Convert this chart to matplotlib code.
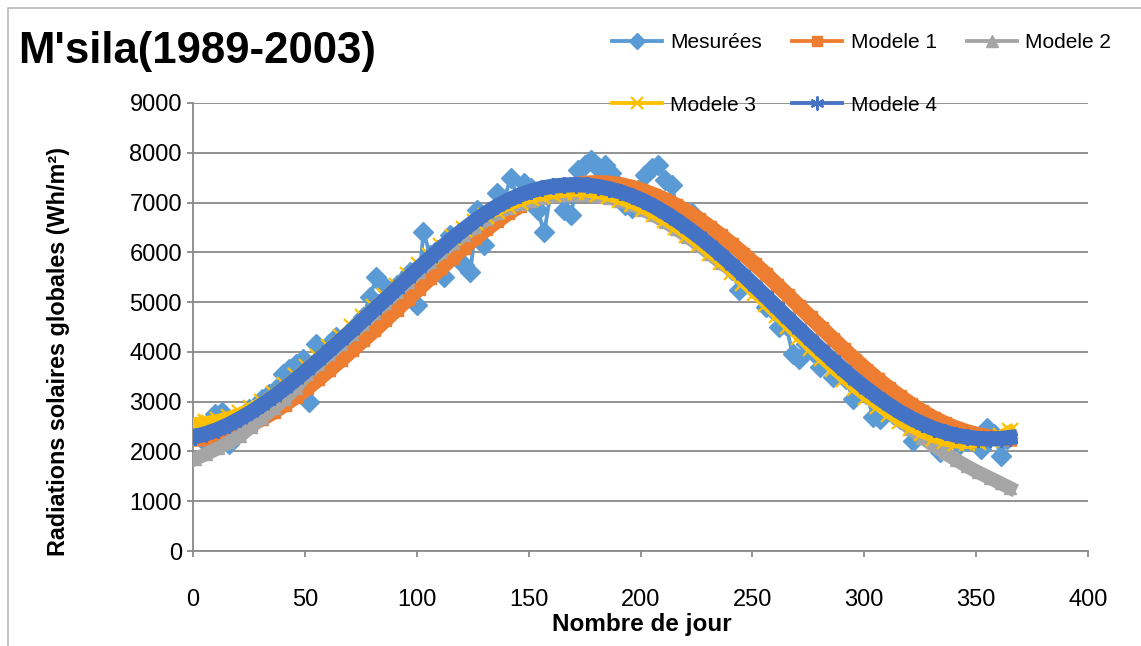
import matplotlib
matplotlib.use("Agg")
import matplotlib.pyplot as plt
from matplotlib.patches import Rectangle
from matplotlib.lines import Line2D

# jours (un point tous les 5 jours pour les modeles)
jours = list(range(1, 362, 5)) + [365]
# jours des mesures (un point tous les 3 jours)
jours_mes = list(range(1, 365, 3))

mesurees = [
    2350, 2250, 2500, 2750, 2800, 2150, 2500, 2600, 2850, 2750,
    3050, 3150, 3250, 3550, 3650, 3750, 3850, 3000, 4150, 3900,
    4150, 4300, 4200, 4350, 4550, 4700, 5100, 5500, 5350, 5200,
    5350, 5450, 5600, 4950, 6400, 5950, 6050, 5500, 6350, 6300,
    5750, 5600, 6850, 6150, 6750, 7200, 7050, 7500, 7100, 7400,
    7300, 6850, 6400, 7250, 7300, 6850, 6750, 7650, 7750, 7850,
    7700, 7750, 7600, 7350, 6950, 6900, 7250, 7550, 7700, 7750,
    7450, 7350, 6700, 6600, 6800, 6400, 6250, 6100, 5900, 5800,
    5650, 5250, 5450, 5300, 5200, 4900, 4850, 4500, 4550, 3950,
    3850, 4150, 4000, 3700, 3850, 3500, 3650, 3450, 3050, 3200,
    3150, 2700, 2650, 2850, 2750, 2650, 2550, 2200, 2450, 2350,
    2300, 1980, 2200, 2250, 2150, 2200, 2250, 2050, 2480, 2350,
    1900, 2250,
]

modele1 = [
    2250, 2255, 2300, 2360, 2440, 2540, 2660, 2790, 2940, 3100,
    3270, 3450, 3640, 3830, 4030, 4230, 4430, 4640, 4850, 5060,
    5270, 5480, 5690, 5890, 6090, 6280, 6460, 6630, 6790, 6930,
    7060, 7170, 7250, 7320, 7360, 7390, 7400, 7390, 7360, 7310,
    7240, 7155, 7060, 6945, 6815, 6670, 6510, 6340, 6160, 5970,
    5770, 5565, 5350, 5135, 4915, 4695, 4480, 4265, 4050, 3845,
    3645, 3455, 3275, 3105, 2950, 2805, 2675, 2565, 2470, 2395,
    2335, 2295, 2265, 2255,
]

modele2 = [
    1850, 1950, 2060, 2180, 2310, 2500, 2680, 2870, 3060, 3280,
    3560, 3760, 3960, 4160, 4360, 4570, 4780, 4990, 5200, 5410,
    5610, 5810, 6000, 6180, 6350, 6500, 6660, 6790, 6900, 6980,
    7040, 7090, 7130, 7150, 7160, 7160, 7140, 7100, 7040, 6960,
    6860, 6745, 6615, 6470, 6315, 6150, 5975, 5790, 5640, 5450,
    5255, 5055, 4850, 4645, 4435, 4225, 4015, 3805, 3600, 3395,
    3195, 3000, 2810, 2625, 2450, 2280, 2120, 1970, 1830, 1700,
    1580, 1470, 1360, 1270,
]

modele3 = [
    2580, 2600, 2640, 2700, 2780, 2880, 3000, 3160, 3330, 3510,
    3700, 3890, 4090, 4290, 4490, 4700, 4910, 5120, 5330, 5540,
    5740, 5930, 6120, 6300, 6460, 6600, 6730, 6840, 6940, 7020,
    7090, 7140, 7180, 7210, 7220, 7210, 7180, 7130, 7060, 6980,
    6880, 6770, 6640, 6500, 6340, 6170, 5990, 5800, 5600, 5390,
    5180, 4960, 4740, 4520, 4300, 4080, 3870, 3660, 3460, 3270,
    3090, 2920, 2760, 2610, 2480, 2370, 2280, 2210, 2170, 2160,
    2180, 2230, 2320, 2420,
]

modele4 = [
    2300, 2360, 2440, 2540, 2660, 2790, 2940, 3100, 3270, 3450,
    3640, 3830, 4030, 4230, 4430, 4640, 4850, 5060, 5270, 5480,
    5690, 5890, 6090, 6280, 6460, 6630, 6790, 6930, 7050, 7150,
    7230, 7290, 7330, 7350, 7360, 7350, 7320, 7275, 7215, 7135,
    7040, 6925, 6795, 6650, 6490, 6320, 6140, 5950, 5750, 5545,
    5330, 5115, 4895, 4675, 4460, 4245, 4035, 3830, 3630, 3440,
    3260, 3090, 2935, 2790, 2665, 2555, 2460, 2385, 2325, 2285,
    2260, 2250, 2260, 2280,
]

W, H = 1141, 646
fig = plt.figure(figsize=(W / 100, H / 100), dpi=100)
ax = fig.add_axes([193 / W, 1 - 551 / H, (1088 - 193) / W, (551 - 103) / H])

grid_c = "#898989"
# (label, colour, marker, legend marker size, edge width)
styles = [
    ("Mesurées", "#5B9BD5", "D", 8, 1.0),
    ("Modele 1", "#ED7D31", "s", 7, 1.0),
    ("Modele 2", "#A5A5A5", "^", 8, 1.0),
    ("Modele 3", "#FFC000", "x", 8, 1.6),
    ("Modele 4", "#4472C4", (6, 2, 0), 10, 1.6),
]
# (x, y, band width, marker size on plot)
series = [(jours_mes, mesurees, 2.75, 10), (jours, modele1, 11, 9),
          (jours, modele2, 10, 9), (jours, modele3, 8, 12),
          (jours, modele4, 11, 12)]

handles = []
for z, ((lab, c, m, ms, mew), (x, y, lw, pms)) in enumerate(zip(styles, series)):
    ax.plot(x, y, color=c, lw=lw, marker=m, ms=pms, mew=mew, mec=c, mfc=c,
            zorder=3 + z, solid_joinstyle="round")
    handles.append(Line2D([], [], color=c, lw=2.75, marker=m, ms=ms, mew=mew,
                          mec=c, mfc=c, label=lab))

ax.set_xlim(0, 400)
ax.set_ylim(0, 9000)
ax.set_xticks(range(0, 401, 50))
ax.set_yticks(range(0, 9001, 1000))
ax.grid(axis="y", color=grid_c, lw=1.3, zorder=0)
ax.set_axisbelow(True)
for s in ["top", "right"]:
    ax.spines[s].set_visible(False)
for s in ["left", "bottom"]:
    ax.spines[s].set_color(grid_c)
    ax.spines[s].set_linewidth(1.3)
ax.tick_params(axis="both", colors=grid_c, length=4, width=1.3, labelcolor="black",
               labelsize=17)
ax.tick_params(axis="x", pad=23)
ax.tick_params(axis="y", pad=4)
for lab in ax.get_xticklabels() + ax.get_yticklabels():
    lab.set_family("Liberation Sans")

fig.text(18 / W, 1 - 63 / H, "M'sila(1989-2003)", family="Liberation Sans",
         weight="bold", fontsize=31.5, va="baseline", ha="left")
fig.text(59 / W, 1 - 352 / H, "Radiations solaires globales (Wh/m²)",
         family="Liberation Sans", weight="bold", fontsize=16.8,
         rotation=90, va="center", ha="center")
fig.text(642 / W, 1 - 625 / H, "Nombre de jour", family="Liberation Sans",
         weight="bold", fontsize=17.5, va="center", ha="center")

order = [0, 3, 1, 4, 2]
fig.legend([handles[i] for i in order], [styles[i][0] for i in order], ncol=3,
           loc="upper left", bbox_to_anchor=(612 / W, 1 - 33 / H),
           frameon=False, borderpad=0, borderaxespad=0,
           prop={"family": "Liberation Sans", "size": 15},
           handlelength=2.4, handletextpad=0.4, columnspacing=1.45,
           labelspacing=2.1)

fig.patches.append(Rectangle((8 / W, -0.1), 1.2, 1.1 - 8 / H, transform=fig.transFigure,
                             fill=False, edgecolor="#b8b8b8", lw=1.2))

fig.savefig("out.png", dpi=100, facecolor="white")
